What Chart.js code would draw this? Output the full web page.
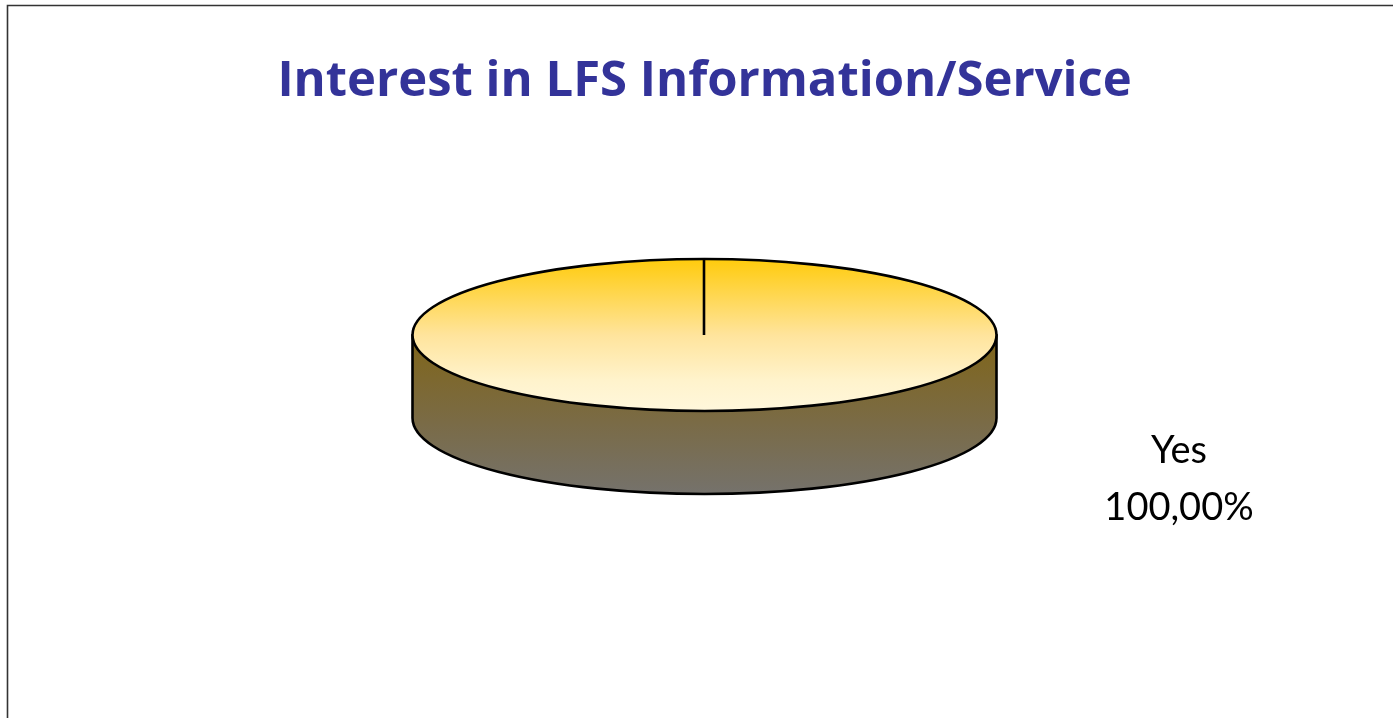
<!DOCTYPE html>
<html>
<head>
<meta charset="utf-8">
<style>html,body{margin:0;padding:0;background:#fff;overflow:hidden}canvas{display:block}</style>
<script src="https://cdn.jsdelivr.net/npm/chart.js@4/dist/chart.umd.min.js"></script>
</head>
<body>
<canvas id="c" width="1393" height="718"></canvas>
<script>
const titleText = 'Interest in LFS Information/Service';
const categories = ['Yes'];
const seriesValues = [100];
const valueLabels = ['100,00%'];

const RADIUS = 292, FLAT = 76 / 292, DEPTH = 83;
const labelFont = '38px "Lato", sans-serif';

const pie3d = {
  id: 'pie3d',
  beforeDatasetsDraw(chart) {
    const ctx = chart.ctx, arc = chart.getDatasetMeta(0).data[0];
    const {x, y, outerRadius: r} = arc;
    const ry = r * FLAT;
    ctx.save();
    ctx.strokeStyle = '#333';
    ctx.lineWidth = 1.6;
    ctx.beginPath(); ctx.moveTo(7.5, 718); ctx.lineTo(7.5, 5.5); ctx.lineTo(1393, 5.5); ctx.stroke();
    const g = ctx.createLinearGradient(0, y, 0, y + ry + DEPTH);
    g.addColorStop(0, '#806518'); g.addColorStop(0.55, '#7A6B46'); g.addColorStop(1, '#75726C');
    ctx.beginPath();
    ctx.moveTo(x - r, y);
    ctx.lineTo(x - r, y + DEPTH);
    ctx.ellipse(x, y + DEPTH, r, ry, 0, Math.PI, 0, true);
    ctx.lineTo(x + r, y);
    ctx.closePath();
    ctx.fillStyle = g; ctx.fill();
    ctx.strokeStyle = '#000'; ctx.lineWidth = 2.6; ctx.lineJoin = 'round'; ctx.stroke();
    ctx.restore();
    ctx.save();
    ctx.translate(0, y); ctx.scale(1, FLAT); ctx.translate(0, -y);
  },
  afterDatasetsDraw(chart) {
    const ctx = chart.ctx;
    ctx.restore();
    const arc = chart.getDatasetMeta(0).data[0];
    const {x, y, outerRadius: r} = arc;
    ctx.save();
    ctx.strokeStyle = '#000'; ctx.lineWidth = 2.6;
    ctx.beginPath(); ctx.ellipse(x, y, r, r * FLAT, 0, 0, Math.PI * 2); ctx.stroke();
    ctx.beginPath(); ctx.moveTo(x - 0.5, y); ctx.lineTo(x - 0.5, y - r * FLAT); ctx.stroke();
    ctx.fillStyle = '#000'; ctx.font = labelFont; ctx.textAlign = 'center'; ctx.textBaseline = 'middle';
    ctx.fillText(categories[0], 1179, 451);
    ctx.fillText(valueLabels[0], 1179, 508);
    ctx.restore();
  }
};

new Chart(document.getElementById('c'), {
  type: 'pie',
  data: {
    labels: categories,
    datasets: [{
      data: seriesValues,
      borderWidth: 0,
      radius: RADIUS,
      backgroundColor(c) {
        const a = c.chart.chartArea;
        if (!a) return '#FFE08A';
        const cy = (a.top + a.bottom) / 2;
        const g = c.chart.ctx.createLinearGradient(0, cy - RADIUS, 0, cy + RADIUS);
        g.addColorStop(0, '#FFCB0C'); g.addColorStop(0.5, '#FFE49C');
        g.addColorStop(0.8, '#FFF3CC'); g.addColorStop(1, '#FFF7DC');
        return g;
      }
    }]
  },
  options: {
    responsive: false,
    animation: false,
    layout: {padding: {left: 16, right: 0, top: 0, bottom: 159.4}},
    plugins: {
      legend: {display: false},
      tooltip: {enabled: false},
      title: {
        display: true, text: titleText, color: '#333399',
        font: {family: '"Open Sans", sans-serif', size: 49, weight: 'bold', lineHeight: 1.2},
        padding: {top: 52.6, bottom: 0}
      }
    }
  },
  plugins: [pie3d]
});
</script>
</body>
</html>
